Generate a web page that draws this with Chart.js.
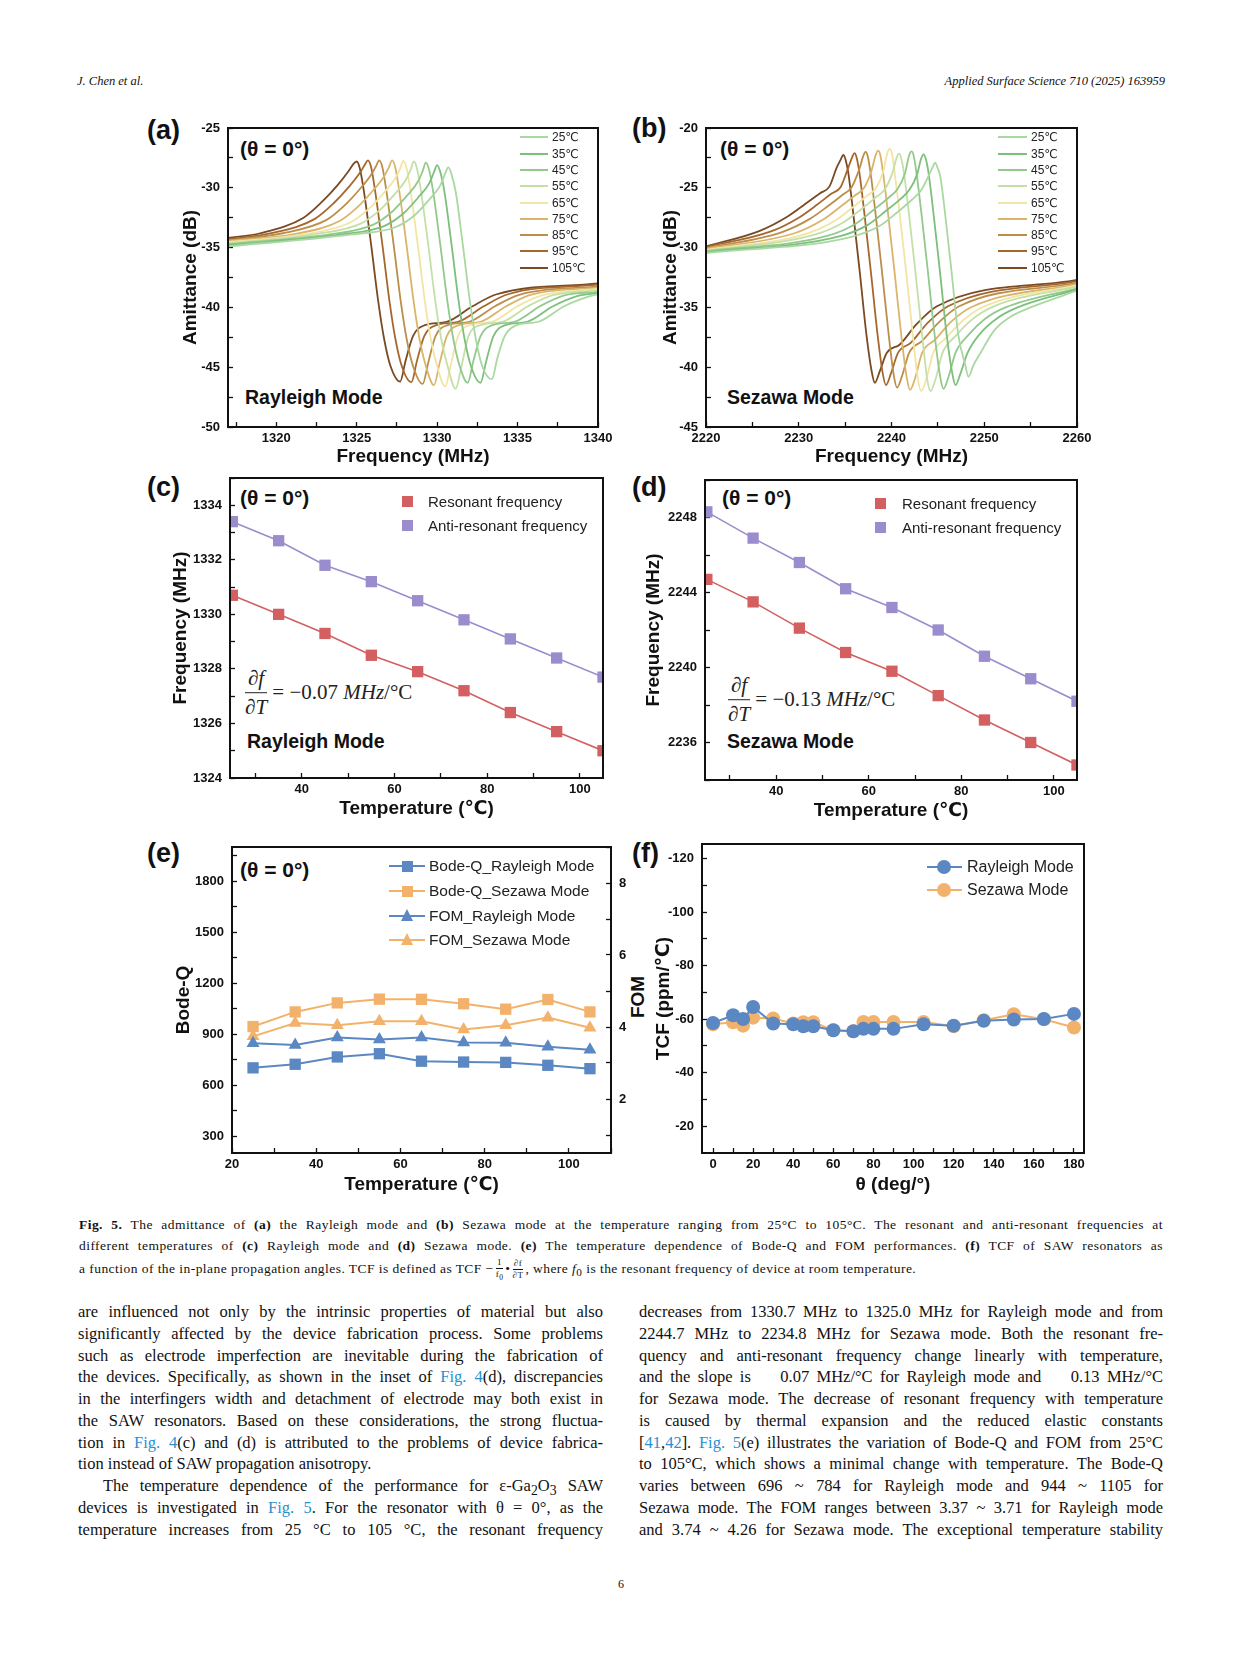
<!DOCTYPE html>
<html><head><meta charset="utf-8">
<script src="https://cdn.jsdelivr.net/npm/chart.js@4.4.1/dist/chart.umd.min.js"></script>
<style>
html,body{margin:0;padding:0;background:#fff;}
#page{position:relative;width:1241px;height:1654px;overflow:hidden;background:#fff;font-family:'Liberation Sans',Arial,'DejaVu Sans',sans-serif;}
canvas{position:absolute;}
.t{position:absolute;white-space:nowrap;color:#111;line-height:1;transform:translateY(-50%);}
.pl{font-size:27px;font-weight:bold;}
.th{font-size:21px;font-weight:bold;}
.md{font-size:19.5px;font-weight:bold;}
.fx{position:absolute;display:flex;align-items:center;transform:translateY(-50%);font-family:'Liberation Serif','DejaVu Serif',serif;font-size:21px;color:#222;white-space:nowrap;}
.fr{display:inline-flex;flex-direction:column;align-items:center;line-height:1.15;}
.bar{display:block;width:100%;height:1.3px;background:#222;margin:2px 0;}
.ser{font-family:'Liberation Serif','DejaVu Serif',serif;color:#111;}
.ln{position:absolute;height:20px;line-height:20px;font-size:16.5px;text-align:justify;text-align-last:justify;overflow:visible;}
.ln.l{text-align-last:left;}
.cap{position:absolute;height:18px;line-height:18px;font-size:13.5px;letter-spacing:0.45px;text-align:justify;text-align-last:justify;}
.cap.l{text-align-last:left;}
.lk{color:#2a8fd0;}
.sf{display:inline-flex;flex-direction:column;align-items:center;vertical-align:middle;font-size:9px;line-height:1;margin:0 2px;}
.sf .sb{display:block;width:100%;height:0.8px;background:#111;margin:1px 0;}
</style>
</head>
<body>
<div id="page">
  <div class="t ser" style="left:77px;top:81px;font-size:12.5px;font-style:italic;">J. Chen et al.</div>
  <div class="t ser" style="right:76px;top:81px;font-size:12.5px;font-style:italic;">Applied Surface Science 710 (2025) 163959</div>

  <div class="t pl" style="left:147px;top:130px;">(a)</div>
  <div class="t pl" style="left:632px;top:128px;">(b)</div>
  <div class="t pl" style="left:147px;top:487px;">(c)</div>
  <div class="t pl" style="left:632px;top:487px;">(d)</div>
  <div class="t pl" style="left:147px;top:853px;">(e)</div>
  <div class="t pl" style="left:632px;top:853px;">(f)</div>

  <div class="t th" style="left:240px;top:148px;">(θ = 0°)</div>
  <div class="t th" style="left:720px;top:148px;">(θ = 0°)</div>
  <div class="t th" style="left:240px;top:497px;">(θ = 0°)</div>
  <div class="t th" style="left:722px;top:497px;">(θ = 0°)</div>
  <div class="t th" style="left:240px;top:869px;">(θ = 0°)</div>

  <div class="t md" style="left:245px;top:398px;">Rayleigh Mode</div>
  <div class="t md" style="left:727px;top:398px;">Sezawa Mode</div>
  <div class="t md" style="left:247px;top:742px;">Rayleigh Mode</div>
  <div class="t md" style="left:727px;top:742px;">Sezawa Mode</div>

  <div class="fx" style="left:245px;top:693px;"><span class="fr"><span>∂<i>f</i></span><span class="bar"></span><span>∂<i>T</i></span></span><span>&nbsp;= −0.07 <i>MHz</i>/°C</span></div>
  <div class="fx" style="left:728px;top:700px;"><span class="fr"><span>∂<i>f</i></span><span class="bar"></span><span>∂<i>T</i></span></span><span>&nbsp;= −0.13 <i>MHz</i>/°C</span></div>

  <div class="t" style="left:637px;top:997px;font-size:19px;font-weight:bold;transform:translate(-50%,-50%) rotate(-90deg);">FOM</div>

  <!-- caption -->
  <div class="cap ser" style="left:79px;top:1216px;width:1084px;"><b>Fig. 5.</b> The admittance of <b>(a)</b> the Rayleigh mode and <b>(b)</b> Sezawa mode at the temperature ranging from 25°C to 105°C. The resonant and anti-resonant frequencies at</div>
  <div class="cap ser" style="left:79px;top:1237px;width:1084px;">different temperatures of <b>(c)</b> Rayleigh mode and <b>(d)</b> Sezawa mode. <b>(e)</b> The temperature dependence of Bode-Q and FOM performances. <b>(f)</b> TCF of SAW resonators as</div>
  <div class="cap ser l" style="left:79px;top:1258px;width:1084px;">a function of the in-plane propagation angles. TCF is defined as TCF −<span class="sf"><span>1</span><span class="sb"></span><span>f<sub>0</sub></span></span>•<span class="sf"><span>∂f</span><span class="sb"></span><span>∂T</span></span>, where <i>f</i><sub>0</sub> is the resonant frequency of device at room temperature.</div>

  <!-- body left -->
  <div class="ln ser" style="left:78px;top:1302px;width:525px;">are influenced not only by the intrinsic properties of material but also</div>
  <div class="ln ser" style="left:78px;top:1324px;width:525px;">significantly affected by the device fabrication process. Some problems</div>
  <div class="ln ser" style="left:78px;top:1346px;width:525px;">such as electrode imperfection are inevitable during the fabrication of</div>
  <div class="ln ser" style="left:78px;top:1367px;width:525px;">the devices. Specifically, as shown in the inset of <span class="lk">Fig. 4</span>(d), discrepancies</div>
  <div class="ln ser" style="left:78px;top:1389px;width:525px;">in the interfingers width and detachment of electrode may both exist in</div>
  <div class="ln ser" style="left:78px;top:1411px;width:525px;">the SAW resonators. Based on these considerations, the strong fluctua-</div>
  <div class="ln ser" style="left:78px;top:1433px;width:525px;">tion in <span class="lk">Fig. 4</span>(c) and (d) is attributed to the problems of device fabrica-</div>
  <div class="ln ser l" style="left:78px;top:1454px;width:525px;">tion instead of SAW propagation anisotropy.</div>
  <div class="ln ser" style="left:103px;top:1476px;width:500px;">The temperature dependence of the performance for ε-Ga<sub>2</sub>O<sub>3</sub> SAW</div>
  <div class="ln ser" style="left:78px;top:1498px;width:525px;">devices is investigated in <span class="lk">Fig. 5</span>. For the resonator with θ = 0°, as the</div>
  <div class="ln ser" style="left:78px;top:1520px;width:525px;">temperature increases from 25 °C to 105 °C, the resonant frequency</div>

  <!-- body right -->
  <div class="ln ser" style="left:639px;top:1302px;width:524px;">decreases from 1330.7 MHz to 1325.0 MHz for Rayleigh mode and from</div>
  <div class="ln ser" style="left:639px;top:1324px;width:524px;">2244.7 MHz to 2234.8 MHz for Sezawa mode. Both the resonant fre-</div>
  <div class="ln ser" style="left:639px;top:1346px;width:524px;">quency and anti-resonant frequency change linearly with temperature,</div>
  <div class="ln ser" style="left:639px;top:1367px;width:524px;">and the slope is &nbsp;&nbsp; 0.07 MHz/°C for Rayleigh mode and &nbsp;&nbsp; 0.13 MHz/°C</div>
  <div class="ln ser" style="left:639px;top:1389px;width:524px;">for Sezawa mode. The decrease of resonant frequency with temperature</div>
  <div class="ln ser" style="left:639px;top:1411px;width:524px;">is caused by thermal expansion and the reduced elastic constants</div>
  <div class="ln ser" style="left:639px;top:1433px;width:524px;">[<span class="lk">41</span>,<span class="lk">42</span>]. <span class="lk">Fig. 5</span>(e) illustrates the variation of Bode-Q and FOM from 25°C</div>
  <div class="ln ser" style="left:639px;top:1454px;width:524px;">to 105°C, which shows a minimal change with temperature. The Bode-Q</div>
  <div class="ln ser" style="left:639px;top:1476px;width:524px;">varies between 696 ~ 784 for Rayleigh mode and 944 ~ 1105 for</div>
  <div class="ln ser" style="left:639px;top:1498px;width:524px;">Sezawa mode. The FOM ranges between 3.37 ~ 3.71 for Rayleigh mode</div>
  <div class="ln ser" style="left:639px;top:1520px;width:524px;">and 3.74 ~ 4.26 for Sezawa mode. The exceptional temperature stability</div>

  <div class="t ser" style="left:621px;top:1584px;font-size:12px;transform:translate(-50%,-50%);">6</div>
</div>

<script>
// ---------------- DATA ----------------
const temps = [25, 35, 45, 55, 65, 75, 85, 95, 105];
const tempLabels = ['25℃', '35℃', '45℃', '55℃', '65℃', '75℃', '85℃', '95℃', '105℃'];

// (a) Rayleigh mode admittance curves, one list per temperature (MHz / dB)
const rayleighFreq = [
  [1317,1324.7,1327.4,1328.6,1329.5,1330.2,1330.5,1330.7,1330.9,1331.15,1331.6,1332.05,1332.4,1332.8,1333.4,1333.75,1334.2,1334.9,1336.3,1337.9,1339.4,1340],
  [1317,1324.0,1326.7,1327.9,1328.8,1329.5,1329.8,1330.0,1330.2,1330.45,1330.9,1331.35,1331.7,1332.1,1332.7,1333.05,1333.5,1334.2,1335.6,1337.2,1338.7,1340],
  [1317,1323.3,1326.0,1327.2,1328.1,1328.8,1329.1,1329.3,1329.5,1329.75,1330.2,1330.65,1331.0,1331.4,1331.9,1332.25,1332.7,1333.4,1334.8,1336.4,1337.9,1340],
  [1317,1322.55,1325.25,1326.45,1327.35,1328.05,1328.35,1328.55,1328.75,1329.0,1329.45,1329.9,1330.25,1330.65,1331.15,1331.5,1331.95,1332.65,1334.05,1335.65,1337.15,1340],
  [1317,1321.9,1324.6,1325.8,1326.7,1327.4,1327.7,1327.9,1328.1,1328.35,1328.8,1329.25,1329.6,1330.0,1330.5,1330.85,1331.3,1332.0,1333.4,1335.0,1336.5,1340],
  [1317,1321.2,1323.9,1325.1,1326.0,1326.7,1327.0,1327.2,1327.4,1327.65,1328.1,1328.55,1328.9,1329.3,1329.8,1330.15,1330.6,1331.3,1332.7,1334.3,1335.8,1340],
  [1317,1320.4,1323.1,1324.3,1325.2,1325.9,1326.2,1326.4,1326.6,1326.85,1327.3,1327.75,1328.1,1328.5,1329.1,1329.45,1329.9,1330.6,1332.0,1333.6,1335.1,1340],
  [1317,1319.7,1322.4,1323.6,1324.5,1325.2,1325.5,1325.7,1325.9,1326.15,1326.6,1327.05,1327.4,1327.8,1328.4,1328.75,1329.2,1329.9,1331.3,1332.9,1334.4,1340],
  [1317,1319.0,1321.7,1322.9,1323.8,1324.5,1324.8,1325.0,1325.2,1325.45,1325.9,1326.35,1326.7,1327.1,1327.7,1328.05,1328.5,1329.2,1330.6,1332.2,1333.7,1340]
];
const rayleighAdm = [
  [-34.9,-33.9,-33.3,-32.3,-31.0,-29.8,-28.8,-28.3,-28.9,-30.3,-34.8,-39.6,-42.6,-44.9,-46.0,-44.2,-42.4,-41.5,-41.2,-39.9,-39.1,-38.9],
  [-34.8,-33.9,-33.2,-32.15,-30.85,-29.65,-28.7,-28.1,-28.7,-30.3,-34.8,-39.6,-42.6,-44.9,-46.3,-44.5,-42.4,-41.5,-41.2,-39.9,-39.05,-38.8],
  [-34.7,-33.9,-33.1,-32.0,-30.7,-29.5,-28.6,-27.9,-28.5,-30.3,-34.8,-39.6,-42.6,-44.9,-46.3,-44.5,-42.4,-41.5,-41.2,-39.9,-39.0,-38.7],
  [-34.65,-33.85,-33.0,-31.85,-30.55,-29.35,-28.5,-27.8,-28.4,-30.3,-34.8,-39.6,-42.6,-44.9,-46.8,-45.0,-42.4,-41.5,-41.2,-39.9,-39.0,-38.55],
  [-34.55,-33.85,-32.9,-31.7,-30.4,-29.2,-28.4,-27.75,-28.35,-30.3,-34.8,-39.6,-42.6,-44.9,-46.6,-44.8,-42.4,-41.5,-41.2,-39.9,-39.0,-38.45],
  [-34.45,-33.85,-32.8,-31.55,-30.25,-29.05,-28.3,-27.7,-28.3,-30.3,-34.8,-39.6,-42.6,-44.9,-46.5,-44.7,-42.4,-41.5,-41.2,-39.9,-38.95,-38.35],
  [-34.4,-33.8,-32.7,-31.4,-30.1,-28.9,-28.2,-27.7,-28.3,-30.3,-34.8,-39.6,-42.6,-44.9,-46.4,-44.6,-42.4,-41.5,-41.2,-39.9,-38.95,-38.25],
  [-34.3,-33.8,-32.6,-31.25,-29.95,-28.75,-28.1,-27.7,-28.3,-30.3,-34.8,-39.6,-42.6,-44.9,-46.25,-44.45,-42.4,-41.5,-41.2,-39.9,-38.9,-38.1],
  [-34.2,-33.8,-32.5,-31.1,-29.8,-28.6,-28.0,-27.8,-28.4,-30.3,-34.8,-39.6,-42.6,-44.9,-46.2,-44.4,-42.4,-41.5,-41.2,-39.9,-38.9,-38.0]
];

// (b) Sezawa mode admittance curves
const sezawaFreq = [
  [2220,2235.7,2238.7,2240.7,2242.2,2243.2,2244.0,2244.45,2244.7,2244.95,2245.25,2245.8,2246.5,2247.2,2247.95,2248.3,2248.85,2249.6,2251.0,2252.8,2255.0,2260],
  [2220,2234.45,2237.45,2239.45,2240.95,2241.95,2242.75,2243.2,2243.45,2243.7,2244.0,2244.55,2245.25,2245.95,2246.55,2246.9,2247.45,2248.2,2249.6,2251.4,2253.6,2260],
  [2220,2233.15,2236.15,2238.15,2239.65,2240.65,2241.45,2241.9,2242.15,2242.4,2242.7,2243.25,2243.95,2244.65,2245.25,2245.6,2246.15,2246.9,2248.3,2250.1,2252.3,2260],
  [2220,2231.8,2234.8,2236.8,2238.3,2239.3,2240.1,2240.55,2240.8,2241.05,2241.35,2241.9,2242.6,2243.3,2243.85,2244.2,2244.75,2245.5,2246.9,2248.7,2250.9,2260],
  [2220,2230.8,2233.8,2235.8,2237.3,2238.3,2239.1,2239.55,2239.8,2240.05,2240.35,2240.9,2241.6,2242.3,2242.85,2243.2,2243.75,2244.5,2245.9,2247.7,2249.9,2260],
  [2220,2229.55,2232.55,2234.55,2236.05,2237.05,2237.85,2238.3,2238.55,2238.8,2239.1,2239.65,2240.35,2241.05,2241.65,2242.0,2242.55,2243.3,2244.7,2246.5,2248.7,2260],
  [2220,2228.2,2231.2,2233.2,2234.7,2235.7,2236.5,2236.95,2237.2,2237.45,2237.75,2238.3,2239.0,2239.7,2240.25,2240.6,2241.15,2241.9,2243.3,2245.1,2247.3,2260],
  [2220,2227.0,2230.0,2232.0,2233.5,2234.5,2235.3,2235.75,2236.0,2236.25,2236.55,2237.1,2237.8,2238.5,2239.05,2239.4,2239.95,2240.7,2242.1,2243.9,2246.1,2260],
  [2220,2225.8,2228.8,2230.8,2232.3,2233.3,2234.1,2234.55,2234.8,2235.05,2235.35,2235.9,2236.6,2237.3,2237.85,2238.2,2238.75,2239.5,2240.9,2242.7,2244.9,2260]
];
const sezawaAdm = [
  [-30.45,-29.1,-28.2,-27.0,-26.0,-25.2,-24.0,-23.25,-22.9,-23.3,-24.0,-27.3,-32.2,-37.3,-39.8,-40.8,-39.8,-38.8,-37.0,-35.8,-35.0,-33.6],
  [-30.4,-29.05,-28.1,-26.9,-25.95,-25.15,-23.9,-22.55,-22.2,-22.6,-23.8,-27.3,-32.2,-37.3,-40.5,-41.5,-40.5,-38.8,-37.15,-35.9,-35.0,-33.5],
  [-30.3,-29.0,-28.0,-26.8,-25.85,-25.1,-23.8,-22.3,-21.95,-22.35,-23.8,-27.3,-32.2,-37.3,-40.8,-41.8,-40.8,-38.8,-37.3,-35.95,-35.0,-33.4],
  [-30.25,-28.9,-27.9,-26.75,-25.8,-25.1,-23.75,-22.5,-22.15,-22.55,-23.8,-27.3,-32.2,-37.3,-41.0,-42.0,-41.0,-38.8,-37.4,-36.0,-34.95,-33.25],
  [-30.2,-28.85,-27.8,-26.65,-25.7,-25.05,-23.65,-22.1,-21.75,-22.15,-23.8,-27.3,-32.2,-37.3,-41.0,-42.0,-41.0,-38.8,-37.55,-36.1,-34.95,-33.15],
  [-30.1,-28.8,-27.7,-26.55,-25.65,-25.0,-23.55,-22.25,-21.9,-22.3,-23.8,-27.3,-32.2,-37.3,-40.9,-41.9,-40.9,-38.8,-37.7,-36.15,-34.95,-33.05],
  [-30.05,-28.7,-27.6,-26.5,-25.6,-24.95,-23.5,-22.35,-22.0,-22.4,-23.8,-27.3,-32.2,-37.3,-40.7,-41.7,-40.7,-38.8,-37.8,-36.25,-34.9,-32.95],
  [-29.95,-28.65,-27.5,-26.4,-25.5,-24.95,-23.4,-22.45,-22.1,-22.5,-23.8,-27.3,-32.2,-37.3,-40.5,-41.5,-40.5,-38.8,-37.95,-36.3,-34.9,-32.8],
  [-29.9,-28.6,-27.4,-26.3,-25.45,-24.9,-23.3,-22.6,-22.25,-22.65,-23.8,-27.3,-32.2,-37.3,-40.3,-41.3,-40.3,-38.8,-38.1,-36.4,-34.9,-32.7]
];

// (c) (d) resonant / anti-resonant frequencies (MHz)
const resRayleigh  = [1330.7, 1330.0, 1329.3, 1328.5, 1327.9, 1327.2, 1326.4, 1325.7, 1325.0];
const antiRayleigh = [1333.4, 1332.7, 1331.8, 1331.2, 1330.5, 1329.8, 1329.1, 1328.4, 1327.7];
const resSezawa    = [2244.7, 2243.5, 2242.1, 2240.8, 2239.8, 2238.5, 2237.2, 2236.0, 2234.8];
const antiSezawa   = [2248.3, 2246.9, 2245.6, 2244.2, 2243.2, 2242.0, 2240.6, 2239.4, 2238.2];

// (e) Bode-Q and FOM
const bodeQRayleigh = [701, 722, 765, 784, 740, 735, 733, 716, 696];
const bodeQSezawa   = [944, 1030, 1083, 1105, 1104, 1078, 1046, 1103, 1030];
const fomRayleigh   = [3.55, 3.50, 3.71, 3.65, 3.71, 3.57, 3.56, 3.45, 3.37];
const fomSezawa     = [3.74, 4.11, 4.05, 4.16, 4.16, 3.93, 4.05, 4.26, 3.98];

// (f) TCF vs propagation angle
const theta       = [0, 10, 15, 20, 30, 40, 45, 50, 60, 70, 75, 80, 90, 105, 120, 135, 150, 165, 180];
const tcfRayleigh = [-58.6, -61.5, -60.1, -64.6, -58.4, -58.1, -57.4, -57.4, -55.9, -55.5, -56.4, -56.4, -56.4, -58.1, -57.6, -59.4, -59.9, -60.1, -62.0];
const tcfSezawa   = [-58.1, -58.9, -57.6, -60.6, -60.3, -58.4, -58.9, -58.9, -55.9, -55.5, -59.0, -59.0, -59.0, -59.0, -57.4, -59.6, -61.9, -60.0, -56.9];

// tick values and labelled ticks
const aXTicks = [1317.5, 1320, 1322.5, 1325, 1327.5, 1330, 1332.5, 1335, 1337.5, 1340];
const aXLabels = [1320, 1325, 1330, 1335, 1340];
const aYTicks = [-50, -47.5, -45, -42.5, -40, -37.5, -35, -32.5, -30, -27.5, -25];
const aYLabels = [-50, -45, -40, -35, -30, -25];
const bXTicks = [2220, 2225, 2230, 2235, 2240, 2245, 2250, 2255, 2260];
const bXLabels = [2220, 2230, 2240, 2250, 2260];
const bYTicks = [-45, -42.5, -40, -37.5, -35, -32.5, -30, -27.5, -25, -22.5, -20];
const bYLabels = [-45, -40, -35, -30, -25, -20];
const tXTicks = [30, 40, 50, 60, 70, 80, 90, 100];
const tXLabels = [40, 60, 80, 100];
const cYTicks = [1324, 1325, 1326, 1327, 1328, 1329, 1330, 1331, 1332, 1333, 1334, 1335];
const cYLabels = [1324, 1326, 1328, 1330, 1332, 1334];
const dYTicks = [2234, 2236, 2238, 2240, 2242, 2244, 2246, 2248, 2250];
const dYLabels = [2236, 2240, 2244, 2248];
const eXTicks = [20, 30, 40, 50, 60, 70, 80, 90, 100, 110];
const eXLabels = [20, 40, 60, 80, 100];
const eYTicks = [300, 450, 600, 750, 900, 1050, 1200, 1350, 1500, 1650, 1800, 1950];
const eYLabels = [300, 600, 900, 1200, 1500, 1800];
const eY2Ticks = [1, 2, 3, 4, 5, 6, 7, 8, 9];
const eY2Labels = [2, 4, 6, 8];
const fXTicks = [0, 10, 20, 30, 40, 50, 60, 70, 80, 90, 100, 110, 120, 130, 140, 150, 160, 170, 180];
const fXLabels = [0, 20, 40, 60, 80, 100, 120, 140, 160, 180];
const fYTicks = [-120, -110, -100, -90, -80, -70, -60, -50, -40, -30, -20];
const fYLabels = [-120, -100, -80, -60, -40, -20];

// ---------------- STYLE ----------------
const FONT = "'Liberation Sans', Arial, 'DejaVu Sans', sans-serif";
const curveColors = ['#a9d8a1', '#7cc07b', '#93c98b', '#c4e0a6', '#f2e5a4', '#dbb46c', '#bb8f4b', '#a6672d', '#7a4a22'];
const RED = '#d45f61', PURPLE = '#9b8dcd', BLUE = '#5b87c2', ORANGE = '#f3b26c';
const page = document.getElementById('page');

const framePlugin = {
  id: 'frame',
  afterDraw(chart) {
    const {ctx, chartArea: a} = chart;
    ctx.save();
    ctx.strokeStyle = '#111';
    ctx.lineWidth = 2;
    ctx.strokeRect(a.left, a.top, a.right - a.left, a.bottom - a.top);
    ctx.restore();
  }
};

function axis(pos, min, max, tickVals, labelVals, size, title, extra) {
  const a = {
    type: 'linear', position: pos, min: min, max: max,
    afterBuildTicks: s => { s.ticks = tickVals.map(v => ({value: v})); },
    afterFit: s => {
      if (pos === 'left' || pos === 'right') s.width = size; else s.height = size;
      s.paddingTop = 0; s.paddingBottom = 0; s.paddingLeft = 0; s.paddingRight = 0;
    },
    ticks: {
      autoSkip: false, maxRotation: 0, minRotation: 0, color: '#111',
      padding: (pos === 'bottom') ? 9 : 13,
      font: {family: FONT, weight: 'bold', size: 13},
      callback: v => labelVals.indexOf(v) >= 0 ? String(v) : ''
    },
    grid: {drawOnChartArea: false, drawTicks: true, tickLength: -5, tickColor: '#111', tickWidth: 1.3},
    border: {display: false},
    title: title ? {display: true, text: title, color: '#111', padding: 0,
      font: {family: FONT, weight: 'bold', size: 19}} : {display: false}
  };
  return Object.assign(a, extra || {});
}

function makePanel(cb, area, datasets, scales, rightAxisW) {
  const cv = document.createElement('canvas');
  const W = cb[2] - cb[0], H = cb[3] - cb[1];
  cv.width = W; cv.height = H;
  cv.style.left = cb[0] + 'px'; cv.style.top = cb[1] + 'px';
  cv.style.width = W + 'px'; cv.style.height = H + 'px';
  page.appendChild(cv);
  return new Chart(cv, {
    type: 'line',
    data: {datasets: datasets},
    options: {
      responsive: false, animation: false, events: [],
      layout: {padding: {left: 0, top: area[1] - cb[1], right: Math.max(0, cb[2] - area[2] - (rightAxisW || 0)), bottom: 0}},
      plugins: {legend: {display: false}, tooltip: {enabled: false}},
      scales: scales
    },
    plugins: [framePlugin]
  });
}

function xy(xs, ys) { return xs.map((x, i) => ({x: x, y: ys[i]})); }

// (a)
makePanel([179, 118, 620, 468], [228, 128, 598, 427],
  rayleighFreq.map((xs, i) => ({label: tempLabels[i], data: xy(xs, rayleighAdm[i]), borderColor: curveColors[i],
    borderWidth: 1.8, pointRadius: 0, cubicInterpolationMode: 'monotone', fill: false})),
  {x: axis('bottom', 1317, 1340, aXTicks, aXLabels, 41, 'Frequency (MHz)'),
   y: axis('left', -50, -25, aYTicks, aYLabels, 49, 'Amittance (dB)')});

// (b)
makePanel([659, 118, 1100, 468], [706, 128, 1077, 427],
  sezawaFreq.map((xs, i) => ({label: tempLabels[i], data: xy(xs, sezawaAdm[i]), borderColor: curveColors[i],
    borderWidth: 1.8, pointRadius: 0, cubicInterpolationMode: 'monotone', fill: false})),
  {x: axis('bottom', 2220, 2260, bXTicks, bXLabels, 41, 'Frequency (MHz)'),
   y: axis('left', -45, -20, bYTicks, bYLabels, 47, 'Amittance (dB)')});

function freqSets(res, anti) {
  return [
    {label: 'Resonant frequency', data: xy(temps, res), borderColor: RED, backgroundColor: RED,
      borderWidth: 1.6, pointStyle: 'rect', pointRadius: 8, pointBorderWidth: 0, tension: 0},
    {label: 'Anti-resonant frequency', data: xy(temps, anti), borderColor: PURPLE, backgroundColor: PURPLE,
      borderWidth: 1.6, pointStyle: 'rect', pointRadius: 8, pointBorderWidth: 0, tension: 0}
  ];
}
// (c)
makePanel([169, 470, 625, 820], [230, 478, 603, 778], freqSets(resRayleigh, antiRayleigh),
  {x: axis('bottom', 24.5, 105, tXTicks, tXLabels, 42, 'Temperature (℃)'),
   y: axis('left', 1324, 1335, cYTicks, cYLabels, 61, 'Frequency (MHz)')});
// (d)
makePanel([642, 470, 1100, 822], [705, 480, 1077, 780], freqSets(resSezawa, antiSezawa),
  {x: axis('bottom', 24.6, 105, tXTicks, tXLabels, 42, 'Temperature (℃)'),
   y: axis('left', 2234, 2250, dYTicks, dYLabels, 63, 'Frequency (MHz)')});

// (e)
makePanel([172, 835, 640, 1196], [232, 847, 611, 1153], [
    {label: 'Bode-Q_Rayleigh Mode', data: xy(temps, bodeQRayleigh), yAxisID: 'y', borderColor: BLUE, backgroundColor: BLUE,
      borderWidth: 2, pointStyle: 'rect', pointRadius: 8, pointBorderWidth: 0},
    {label: 'Bode-Q_Sezawa Mode', data: xy(temps, bodeQSezawa), yAxisID: 'y', borderColor: ORANGE, backgroundColor: ORANGE,
      borderWidth: 2, pointStyle: 'rect', pointRadius: 8, pointBorderWidth: 0},
    {label: 'FOM_Rayleigh Mode', data: xy(temps, fomRayleigh), yAxisID: 'y2', borderColor: BLUE, backgroundColor: BLUE,
      borderWidth: 2, pointStyle: 'triangle', pointRadius: 7.5, pointBorderWidth: 0},
    {label: 'FOM_Sezawa Mode', data: xy(temps, fomSezawa), yAxisID: 'y2', borderColor: ORANGE, backgroundColor: ORANGE,
      borderWidth: 2, pointStyle: 'triangle', pointRadius: 7.5, pointBorderWidth: 0}
  ],
  {x: axis('bottom', 20, 110, eXTicks, eXLabels, 43, 'Temperature (℃)'),
   y: axis('left', 200, 2000, eYTicks, eYLabels, 60, 'Bode-Q'),
   y2: axis('right', 0.5, 9, eY2Ticks, eY2Labels, 29, null)}, 29);

// (f)
makePanel([652, 832, 1105, 1196], [702, 844, 1084, 1153], [
    {label: 'Rayleigh Mode', data: xy(theta, tcfRayleigh), borderColor: BLUE, backgroundColor: BLUE,
      borderWidth: 2, pointStyle: 'circle', pointRadius: 7, pointBorderWidth: 0},
    {label: 'Sezawa Mode', data: xy(theta, tcfSezawa), borderColor: ORANGE, backgroundColor: ORANGE,
      borderWidth: 2, pointStyle: 'circle', pointRadius: 7, pointBorderWidth: 0}
  ],
  {x: axis('bottom', -5.5, 185, fXTicks, fXLabels, 43, 'θ (deg/°)'),
   y: axis('left', -125.5, -10, fYTicks, fYLabels, 50, 'TCF (ppm/℃)', {reverse: true})});

// ---------------- LEGENDS (HTML) ----------------
function el(tag, css, html) {
  const d = document.createElement(tag);
  d.style.cssText = css;
  if (html !== undefined) d.innerHTML = html;
  page.appendChild(d);
  return d;
}
function lineSeg(x0, x1, y, color, w) {
  el('div', `position:absolute;left:${x0}px;top:${y - w / 2}px;width:${x1 - x0}px;height:${w}px;background:${color};`);
}
function marker(kind, cx, cy, color, s) {
  if (kind === 'rect') el('div', `position:absolute;left:${cx - s / 2}px;top:${cy - s / 2}px;width:${s}px;height:${s}px;background:${color};`);
  else if (kind === 'circle') el('div', `position:absolute;left:${cx - s / 2}px;top:${cy - s / 2}px;width:${s}px;height:${s}px;border-radius:50%;background:${color};`);
  else el('div', `position:absolute;left:${cx - s / 2}px;top:${cy - s * 0.55}px;width:0;height:0;border-left:${s / 2}px solid transparent;border-right:${s / 2}px solid transparent;border-bottom:${s}px solid ${color};`);
}
function label(x, y, text, fs) {
  el('div', `position:absolute;left:${x}px;top:${y}px;font-size:${fs}px;color:#222;white-space:nowrap;line-height:1;transform:translateY(-50%);`, text);
}
// (a) and (b)
tempLabels.forEach((t, k) => {
  const y = 137.3 + k * 16.3;
  lineSeg(520, 548, y, curveColors[k], 2); label(552, y, t, 12);
  lineSeg(998, 1027, y, curveColors[k], 2); label(1031, y, t, 12);
});
// (c) and (d)
marker('rect', 407, 501, RED, 11); label(428, 501, 'Resonant frequency', 15);
marker('rect', 407, 525, PURPLE, 11); label(428, 525, 'Anti-resonant frequency', 15);
marker('rect', 880, 503, RED, 11); label(902, 503, 'Resonant frequency', 15);
marker('rect', 880, 527, PURPLE, 11); label(902, 527, 'Anti-resonant frequency', 15);
// (e)
[['Bode-Q_Rayleigh Mode', BLUE, 'rect', 866], ['Bode-Q_Sezawa Mode', ORANGE, 'rect', 891],
 ['FOM_Rayleigh Mode', BLUE, 'tri', 916], ['FOM_Sezawa Mode', ORANGE, 'tri', 940]].forEach(e => {
  lineSeg(389, 425, e[3], e[1], 2); marker(e[2], 407, e[3], e[1], e[2] === 'rect' ? 11 : 12); label(429, e[3], e[0], 15.5);
});
// (f)
[['Rayleigh Mode', BLUE, 867], ['Sezawa Mode', ORANGE, 890]].forEach(e => {
  lineSeg(927, 962, e[2], e[1], 2); marker('circle', 944, e[2], e[1], 14); label(967, e[2], e[0], 16);
});
</script>
</body></html>
